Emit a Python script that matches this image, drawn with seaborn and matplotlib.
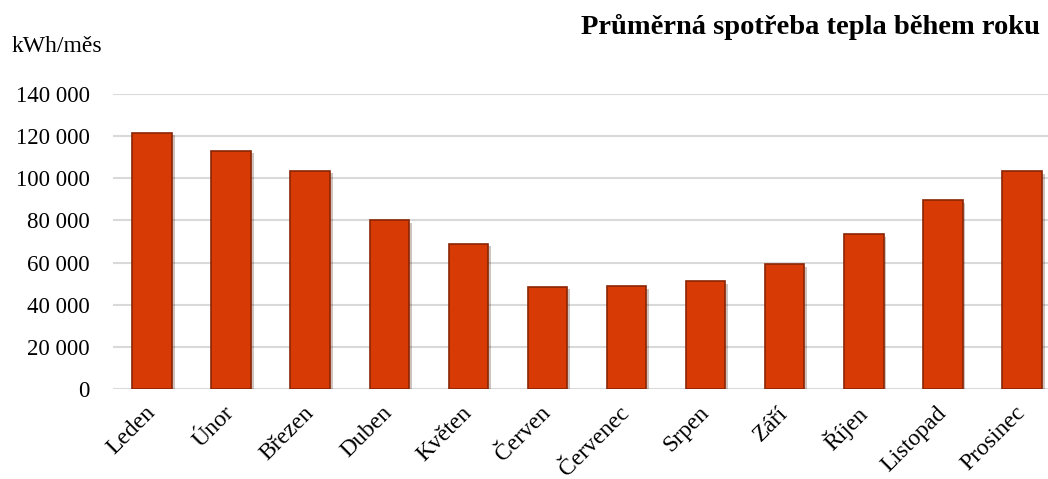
import matplotlib
matplotlib.use("Agg")
import matplotlib.pyplot as plt
import matplotlib.ticker as mticker
import matplotlib.patheffects as pe
import seaborn as sns
import pandas as pd

months = ["Leden", "Únor", "Březen", "Duben", "Květen", "Červen",
          "Červenec", "Srpen", "Září", "Říjen", "Listopad", "Prosinec"]
values = [121700, 113100, 103600, 80000, 69000, 48600,
          48900, 51100, 59200, 73600, 89700, 103500]
y_ticks = [0, 20000, 40000, 60000, 80000, 100000, 120000, 140000]
title = "Průměrná spotřeba tepla během roku"
unit_label = "kWh/měs"

sns.set_theme(style="white")
plt.rcParams['font.family'] = ['Liberation Serif', 'DejaVu Serif']
plt.rcParams['text.color'] = 'black'

df = pd.DataFrame({"month": months, "value": values})

fig = plt.figure(figsize=(10.48, 4.79), dpi=100)
ax = fig.add_axes([112.5 / 1048, 90 / 479, 949 / 1048, 295 / 479])

sns.barplot(data=df, x="month", y="value", color="#D83A05", width=0.5,
            edgecolor="#8A2504", linewidth=1.2, saturation=1, ax=ax, zorder=3)
for p in ax.patches:
    p.set_path_effects([pe.SimplePatchShadow(offset=(2, -2), alpha=0.25),
                        pe.Normal()])

ax.set_ylim(0, 140000)
ax.set_yticks(y_ticks)
ax.yaxis.set_major_formatter(mticker.FuncFormatter(
    lambda v, p: f"{int(v):,}".replace(",", " ")))
ax.grid(axis="y", color="#D9D9D9", linewidth=1.5, zorder=0)
ax.grid(axis="x", visible=False)
for s in ax.spines.values():
    s.set_visible(False)
ax.set_xlabel("")
ax.set_ylabel("")
ax.tick_params(axis="y", length=0, pad=16.5, labelsize=16.5, labelcolor="black")
ax.tick_params(axis="x", length=0, pad=15, labelsize=17, labelcolor="black")
plt.setp(ax.get_xticklabels(), rotation=45, ha="right", va="center",
         rotation_mode="anchor")

fig.text(12 / 1048, 1 - 47 / 479, unit_label, fontsize=17, va="center",
         ha="left", color="black")
fig.text(581 / 1048, 1 - 27 / 479, title, fontsize=20.5, fontweight="bold",
         va="center", ha="left", color="black")

fig.savefig("out.png", dpi=100)
